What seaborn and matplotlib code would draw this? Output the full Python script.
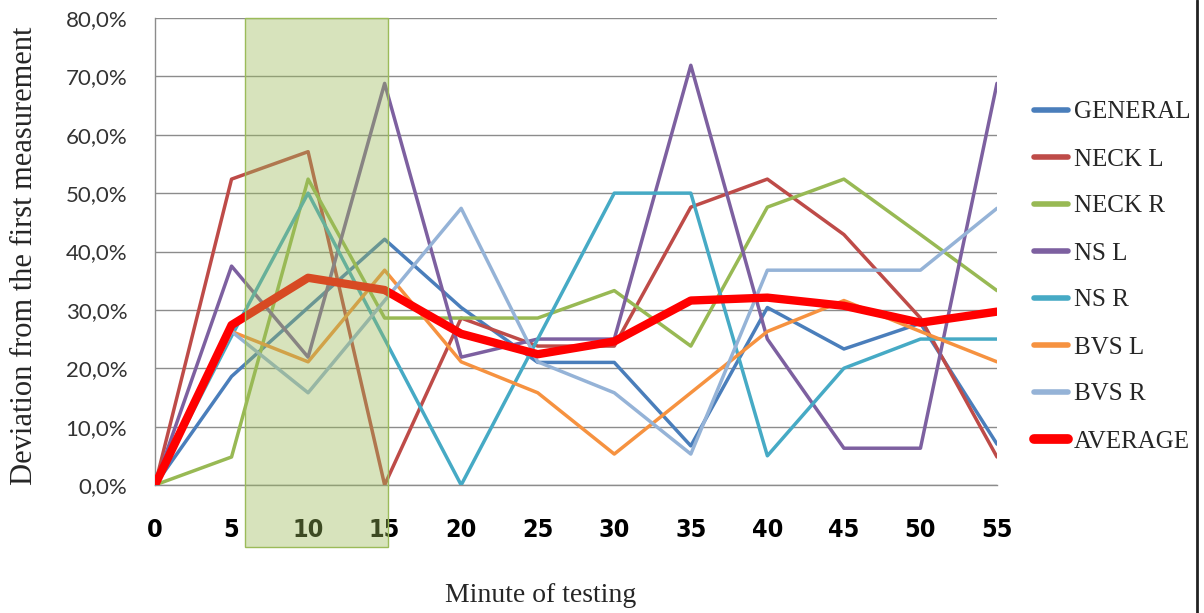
import numpy as np
import pandas as pd
import matplotlib
matplotlib.use("Agg")
import matplotlib.pyplot as plt
import matplotlib.patches as patches
from matplotlib.lines import Line2D
from matplotlib.ticker import FuncFormatter
import seaborn as sns

# Datos (desviacion en %)
minutes = [0, 5, 10, 15, 20, 25, 30, 35, 40, 45, 50, 55]
general = [0, 18.6, 30.4, 42.1, 30.4, 21.0, 21.0, 6.7, 30.4, 23.3, 27.7, 7.0]
neck_l = [0, 52.4, 57.1, 0, 28.6, 23.8, 23.8, 47.6, 52.4, 42.9, 28.6, 4.8]
neck_r = [0, 4.8, 52.4, 28.6, 28.6, 28.6, 33.3, 23.8, 47.6, 52.4, 42.9, 33.3]
ns_l = [0, 37.5, 21.9, 68.8, 21.9, 25.0, 25.0, 71.9, 25.0, 6.3, 6.3, 68.8]
ns_r = [0, 25.5, 50.0, 25.0, 0, 25.0, 50.0, 50.0, 5.0, 20.0, 25.0, 25.0]
bvs_l = [0, 26.3, 21.1, 36.8, 21.1, 15.8, 5.3, 15.8, 26.3, 31.6, 26.3, 21.1]
bvs_r = [0, 26.3, 15.8, 31.6, 47.4, 21.1, 15.8, 5.3, 36.8, 36.8, 36.8, 47.4]
average = [0, 27.4, 35.5, 33.4, 25.9, 22.4, 24.6, 31.6, 32.1, 30.7, 27.8, 29.7]

labels = ["GENERAL", "NECK L", "NECK R", "NS L", "NS R", "BVS L", "BVS R", "AVERAGE"]
series = [general, neck_l, neck_r, ns_l, ns_r, bvs_l, bvs_r, average]
colors = ["#4A7EBB", "#BE4B48", "#98B954", "#7D60A0", "#46AAC5", "#F69240", "#95B3D7", "#FF0000"]

df = pd.DataFrame({"minute": minutes * len(labels),
                   "value": np.concatenate(series),
                   "series": np.repeat(labels, len(minutes))})

sns.set_style("white")
serif = ["Liberation Serif", "DejaVu Serif"]

fig = plt.figure(figsize=(12.04, 6.13), dpi=100)
ax = fig.add_axes([155 / 1204, 1 - 485 / 613, 842 / 1204, 467 / 613])

for lab, col in zip(labels, colors):
    lw = 6 if lab == "AVERAGE" else 2.5
    sns.lineplot(data=df[df["series"] == lab], x="minute", y="value", color=col,
                 linewidth=lw, label=lab, ax=ax, zorder=3, solid_capstyle="round")

# zona sombreada
rect = patches.Rectangle((5.9, -10.6), 9.3, 90.6, facecolor="#9BBB59", alpha=0.4,
                         edgecolor="none", clip_on=False, zorder=5)
ax.add_patch(rect)
rect_edge = patches.Rectangle((5.9, -10.6), 9.3, 90.6, facecolor="none",
                              edgecolor="#9BBB59", lw=1, clip_on=False, zorder=5)
ax.add_patch(rect_edge)

ax.set_xlim(0, 55)
ax.set_ylim(0, 80)
ax.set_xticks(minutes)
ax.set_yticks(np.arange(0, 81, 10))
ax.yaxis.set_major_formatter(FuncFormatter(lambda v, p: f"{v:.1f}%".replace(".", ",")))
ax.grid(axis="y", color="#8C8C8C", lw=1)
ax.set_axisbelow(True)
for s in ["top", "right"]:
    ax.spines[s].set_visible(False)
for s in ["left", "bottom"]:
    ax.spines[s].set_color("#8C8C8C")
    ax.spines[s].set_linewidth(1)
ax.tick_params(axis="both", direction="out", length=7, color="#8C8C8C", width=1)
ax.tick_params(axis="y", pad=13, labelsize=16, labelcolor="#333333")
ax.tick_params(axis="x", pad=17, labelsize=18)
for t in ax.get_yticklabels():
    t.set_family(["Lato", "DejaVu Sans"])
for t in ax.get_xticklabels():
    t.set_family(["DejaVu Sans"])
    t.set_fontstretch("condensed")
    t.set_fontweight("bold")
    t.set_color("black")

ax.set_xlabel("Minute of testing", family=serif, fontsize=20)
ax.xaxis.set_label_coords((541 - 155) / 842, -0.21)
ax.set_ylabel("Deviation from the first measurement", family=serif, fontsize=22)
ax.yaxis.set_label_coords(-0.138, 0.49)

leg = ax.legend(loc="upper left", bbox_to_anchor=(1034 / 1204, 1 - 101 / 613),
                bbox_transform=fig.transFigure, frameon=False, handlelength=1.35,
                handletextpad=0.25, labelspacing=0.98, borderaxespad=0, borderpad=0,
                prop={"family": serif, "size": 18})
for h in leg.get_lines():
    h.set_linewidth(7 if h.get_color() == "#FF0000" else 4)

fig.add_artist(Line2D([1197 / 1204, 1197 / 1204], [0, 1], color="#222222", lw=2,
                      transform=fig.transFigure))

fig.savefig("out.png", dpi=100)
